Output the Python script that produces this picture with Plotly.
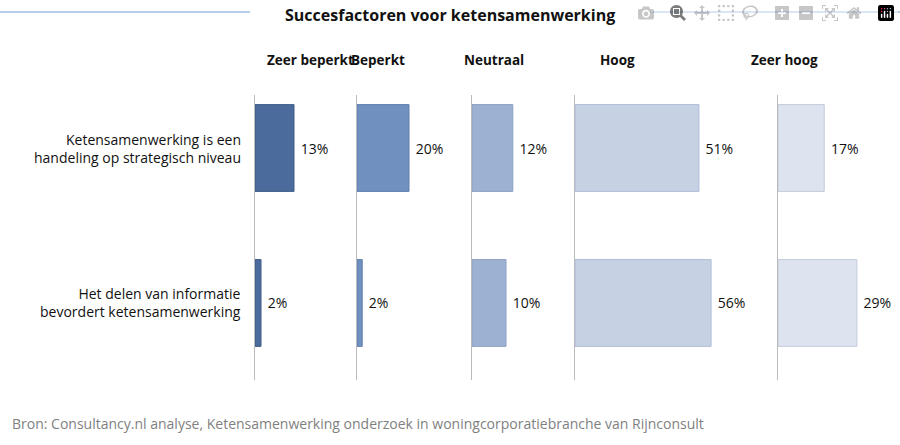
import plotly.graph_objects as go
from plotly.subplots import make_subplots

statements = ["Ketensamenwerking is een<br>handeling op strategisch niveau",
              "Het delen van informatie<br>bevordert ketensamenwerking"]
levels = ["Zeer beperkt", "Beperkt", "Neutraal", "Hoog", "Zeer hoog"]
values = {
    "Zeer beperkt": [13, 2],
    "Beperkt": [20, 2],
    "Neutraal": [12, 10],
    "Hoog": [51, 56],
    "Zeer hoog": [17, 29],
}
colors = ["#4a6b9c", "#7090bf", "#9db1d3", "#c6d1e4", "#dee4ef"]
borders = ["#3e5c88", "#5f7fae", "#8aa0c4", "#aebcd5", "#c3cbdb"]

W, H = 900, 445
starts = [255, 357, 472, 575, 778]
scales = [3.0, 2.6, 3.4, 2.43, 2.72]
widths = [90, 90, 90, 180, 110]
centers = [265, 378, 494, 637, 820]

fig = make_subplots(rows=1, cols=5)
font = "Open Sans"
for i, lev in enumerate(levels):
    fig.add_trace(go.Bar(
        y=[0, 1], x=values[lev], orientation="h", width=0.56,
        marker=dict(color=colors[i], line=dict(color=borders[i], width=1)),
        text=[f" {v}%" for v in values[lev]], textposition="outside",
        textfont=dict(size=14, color="#111", family=font), cliponaxis=False,
        showlegend=False), row=1, col=i + 1)
    xa = "xaxis" if i == 0 else f"xaxis{i+1}"
    ya = "yaxis" if i == 0 else f"yaxis{i+1}"
    d0 = starts[i] / W
    d1 = (starts[i] + widths[i]) / W
    fig.layout[xa].update(domain=[d0, d1], range=[0, widths[i] / scales[i]],
                          visible=False)
    fig.layout[ya].update(range=[1.497, -0.342], showticklabels=False,
                          showgrid=False, zeroline=False, showline=True,
                          linecolor="#bbbbbb", linewidth=1, ticks="")
    fig.add_annotation(x=centers[i] / W, y=1 + 35 / 285, xref="paper", yref="paper",
                       yanchor="middle", text=f"<b>{lev}</b>", showarrow=False,
                       font=dict(size=13.5, color="#111", family=font))

for j, s in enumerate(statements):
    fig.add_annotation(x=243 / W, xref="paper", y=j, yref="y", text=s,
                       showarrow=False, xanchor="right", align="right",
                       font=dict(size=14, color="#111", family=font))

fig.add_annotation(x=0.5, y=1 + 80 / 285, xref="paper", yref="paper", yanchor="middle",
                   text="<b>Succesfactoren voor ketensamenwerking</b>", showarrow=False,
                   font=dict(size=16, color="#111", family=font))
fig.add_shape(type="line", xref="paper", yref="paper", x0=0, x1=250 / W,
              y0=1 + 83 / 285, y1=1 + 83 / 285, line=dict(color="#6e9ad0", width=1))
fig.add_shape(type="line", xref="paper", yref="paper", x0=650 / W, x1=1,
              y0=1 + 83 / 285, y1=1 + 83 / 285, line=dict(color="#6e9ad0", width=1))
fig.add_annotation(x=10 / W, y=-43 / 285, xref="paper", yref="paper", xanchor="left",
                   yanchor="middle",
                   text="Bron: Consultancy.nl analyse, Ketensamenwerking onderzoek in woningcorporatiebranche van Rijnconsult",
                   showarrow=False, font=dict(size=14, color="#7f7f7f", family=font))

fig.update_layout(width=W, height=H, margin=dict(l=0, r=0, t=95, b=65),
                  plot_bgcolor="white", paper_bgcolor="white")
fig.write_html("out.html", post_script="document.body.style.margin='0';")
